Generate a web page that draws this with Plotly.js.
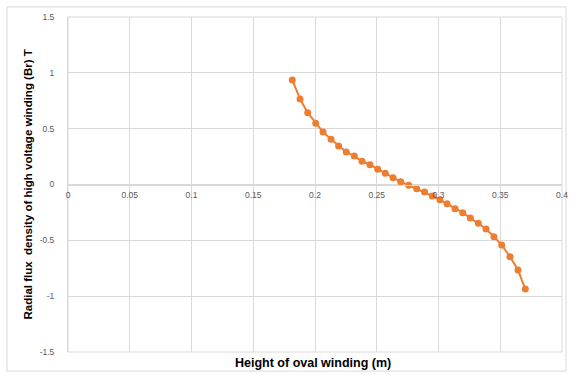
<!DOCTYPE html>
<html>
<head>
<meta charset="utf-8">
<script src="https://cdn.plot.ly/plotly-3.0.1.min.js"></script>
<style>html,body{margin:0;padding:0;background:#fff;}#chart{width:571px;height:375px;}</style>
</head>
<body>
<div id="chart"></div>
<script>
var heightM = [0.1816, 0.1879, 0.1941, 0.2006, 0.2065, 0.2130, 0.2191, 0.2253, 0.2318, 0.2381,
               0.2445, 0.2508, 0.2569, 0.2632, 0.2694, 0.2759, 0.2823, 0.2887, 0.2950, 0.3012,
               0.3069, 0.3134, 0.3196, 0.3258, 0.3322, 0.3385, 0.3449, 0.3512, 0.3579, 0.3644, 0.3703];
var brT = [0.936, 0.765, 0.643, 0.548, 0.470, 0.405, 0.345, 0.291, 0.255, 0.208,
           0.177, 0.136, 0.100, 0.061, 0.025, -0.007, -0.038, -0.067, -0.103, -0.137,
           -0.172, -0.217, -0.252, -0.300, -0.347, -0.398, -0.467, -0.542, -0.646, -0.765, -0.936];
var xTicks = [0, 0.05, 0.1, 0.15, 0.2, 0.25, 0.3, 0.35, 0.4];
var xTickText = ['0', '0.05', '0.1', '0.15', '0.2', '0.25', '0.3', '0.35', '0.4'];
var yTicks = [-1.5, -1, -0.5, 0, 0.5, 1, 1.5];
var yTickText = ['-1.5', '-1', '-0.5', '0', '0.5', '1', '1.5'];
var xTitle = 'Height of oval winding (m)';
var yTitle = 'Radial flux  density of high voltage winding (Br) T';

var trace = {
  x: heightM, y: brT, type: 'scatter', mode: 'lines+markers',
  line: {color: '#ED7D31', width: 2},
  marker: {color: '#ED7D31', size: 7},
  hoverinfo: 'none'
};

var grid = '#d9d9d9';
var layout = {
  width: 571, height: 375,
  margin: {l: 68, r: 9, t: 17, b: 23, pad: 0},
  paper_bgcolor: '#fff', plot_bgcolor: '#fff',
  showlegend: false,
  font: {family: 'Liberation Sans, Arial, sans-serif', color: '#595959'},
  xaxis: {
    range: [0, 0.4], tickvals: xTicks, ticktext: xTickText,
    showgrid: true, gridcolor: grid, gridwidth: 1,
    zeroline: false, showline: true, linecolor: grid, linewidth: 1,
    anchor: 'free', position: 0.5, side: 'bottom',
    ticks: 'outside', ticklen: 2, tickcolor: 'rgba(0,0,0,0)',
    tickfont: {size: 8.5, color: '#595959'}
  },
  yaxis: {
    range: [-1.5, 1.5], tickvals: yTicks, ticktext: yTickText,
    showgrid: true, gridcolor: grid, gridwidth: 1,
    zeroline: false, showline: true, linecolor: grid, linewidth: 1,
    ticks: 'outside', ticklen: 11, tickcolor: 'rgba(0,0,0,0)',
    tickfont: {size: 8.5, color: '#595959'}
  },
  shapes: [
    {type: 'rect', xref: 'paper', yref: 'paper', x0: 0, x1: 1, y0: 0, y1: 1,
     line: {color: grid, width: 1}, layer: 'below'},
    {type: 'rect', xref: 'paper', yref: 'paper', x0: -0.1235, x1: 1.008, y0: -0.057, y1: 1.03,
     line: {color: '#d9d9d9', width: 1}, layer: 'below'}
  ],
  annotations: [
    {text: '<b>' + xTitle + '</b>', xref: 'paper', yref: 'paper', x: 0.495, y: -0.033,
     xanchor: 'center', yanchor: 'middle', showarrow: false,
     font: {size: 12.5, color: '#000000', family: 'Liberation Sans, Arial, sans-serif'}},
    {text: '<b>' + yTitle + '</b>', xref: 'paper', yref: 'paper', x: -0.081, y: 0.5,
     xanchor: 'center', yanchor: 'middle', textangle: -90, showarrow: false,
     font: {size: 11.5, color: '#000000', family: 'Liberation Sans, Arial, sans-serif'}}
  ]
};

Plotly.newPlot('chart', [trace], layout, {displayModeBar: false, staticPlot: true});
</script>
</body>
</html>
